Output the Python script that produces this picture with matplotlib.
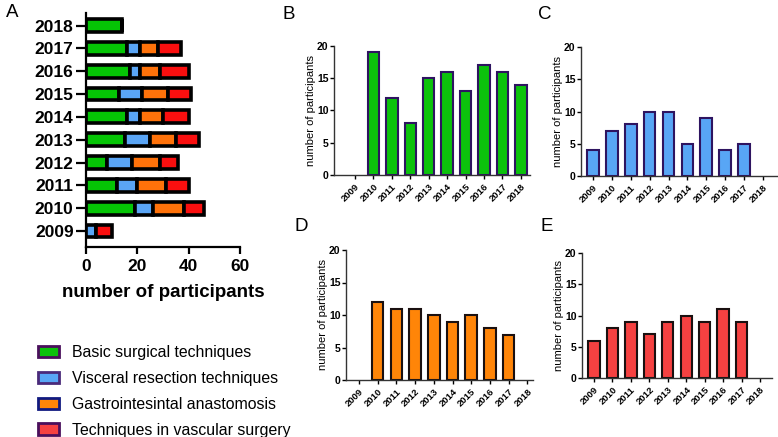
import numpy as np
import matplotlib
matplotlib.use('Agg')
from matplotlib import pyplot as plt
from matplotlib.patches import Patch

plt.rcParams['font.family'] = ['Liberation Sans', 'DejaVu Sans']

years = ['2009', '2010', '2011', '2012', '2013', '2014', '2015', '2016', '2017', '2018']
basic = [0, 19, 12, 8, 15, 16, 13, 17, 16, 14]
visceral = [4, 7, 8, 10, 10, 5, 9, 4, 5, 0]
anastomosis = [0, 12, 11, 11, 10, 9, 10, 8, 7, 0]
vascular = [6, 8, 9, 7, 9, 10, 9, 11, 9, 0]

series_names = ['Basic surgical techniques', 'Visceral resection techniques',
                'Gastrointesintal anastomosis', 'Techniques in vascular surgery']
colors = ['#0cc20c', '#58a6f5', '#ff8508', '#f54141']
colorsA = ['#05c405', '#5aa5f5', '#ff720a', '#fa0f0f']
legend_edges = ['#4a0f5c', '#4a2a7a', '#101a80', '#4a0f5c']
panel_edges = ['#2e1460', '#2e1460', '#1a1010', '#1a1010']

W, H = 778, 437
fig = plt.figure(figsize=(W / 100, H / 100), dpi=100)


def px_axes(x0, y0, x1, y1):
    return fig.add_axes([x0 / W, 1 - y1 / H, (x1 - x0) / W, (y1 - y0) / H])


# panel A: stacked horizontal bars
axA = px_axes(86, 13, 240, 247)
data = [basic, visceral, anastomosis, vascular]
ypos = np.arange(len(years))
left = np.zeros(len(years))
for vals, c in zip(data, colorsA):
    axA.barh(ypos, vals, left=left, height=0.56, color=c, edgecolor='black',
             linewidth=2.6)
    left += np.array(vals)
axA.set_xlim(0, 60)
axA.set_ylim(-0.7, 9.55)
axA.set_xticks([0, 20, 40, 60])
axA.set_yticks(ypos)
axA.set_yticklabels(years, fontsize=12.5, fontweight='bold')
axA.tick_params(axis='x', labelsize=12.5, width=1.6, length=5)
for lab in axA.get_xticklabels():
    lab.set_fontweight('bold')
axA.tick_params(axis='y', width=1.6, length=7, pad=2)
axA.set_xlabel('number of participants', fontsize=13.5, fontweight='bold', labelpad=7)
for s in ['top', 'right']:
    axA.spines[s].set_visible(False)
for s in ['left', 'bottom']:
    axA.spines[s].set_linewidth(1.6)

# legend
handles = [Patch(facecolor=c, edgecolor=e, linewidth=2)
           for c, e in zip(colors, legend_edges)]
fig.legend(handles, series_names, loc='upper left',
           bbox_to_anchor=(24 / W, 1 - 331 / H), frameon=False, fontsize=11.4,
           handlelength=1.3, handleheight=0.7, labelspacing=0.68, handletextpad=0.8)

# panels B-E
panels = [('B', basic, (334, 46, 530, 175), (-1.14, 9.5), (283, 19)),
          ('C', visceral, (581, 47, 777, 176), (-0.63, 9.74), (538, 19)),
          ('D', anastomosis, (346, 250, 533, 380), (-0.69, 9.3), (294, 231)),
          ('E', vascular, (582, 253, 772, 378), (-0.65, 9.65), (540, 231))]
for i, (name, vals, box, xl, lab) in enumerate(panels):
    ax = px_axes(*box)
    x = np.arange(len(years))
    lws = [1.5 if v > 0 else 0 for v in vals]
    ax.bar(x, vals, width=0.62, color=colors[i], edgecolor=panel_edges[i], linewidth=lws)
    ax.set_xlim(*xl)
    ax.set_ylim(0, 20)
    ax.set_yticks([0, 5, 10, 15, 20])
    ax.set_xticks(x)
    ax.set_xticklabels(years, rotation=45, ha='right', rotation_mode='anchor',
                       fontsize=6.8, fontweight='bold')
    for t in ax.get_yticklabels():
        t.set_fontweight('bold')
    ax.tick_params(axis='y', labelsize=7.5, length=3, width=1, pad=1)
    ax.tick_params(axis='x', length=3, width=1, pad=2)
    ax.set_ylabel('number of participants', fontsize=8, labelpad=1)
    for s in ['top', 'right']:
        ax.spines[s].set_visible(False)
    for s in ['left', 'bottom']:
        ax.spines[s].set_linewidth(1)
        ax.spines[s].set_color('#333333')
    fig.text(lab[0] / W, 1 - lab[1] / H, name, fontsize=13.5)

fig.text(6 / W, 1 - 17 / H, 'A', fontsize=13.5)

fig.savefig('out.png', dpi=100)
